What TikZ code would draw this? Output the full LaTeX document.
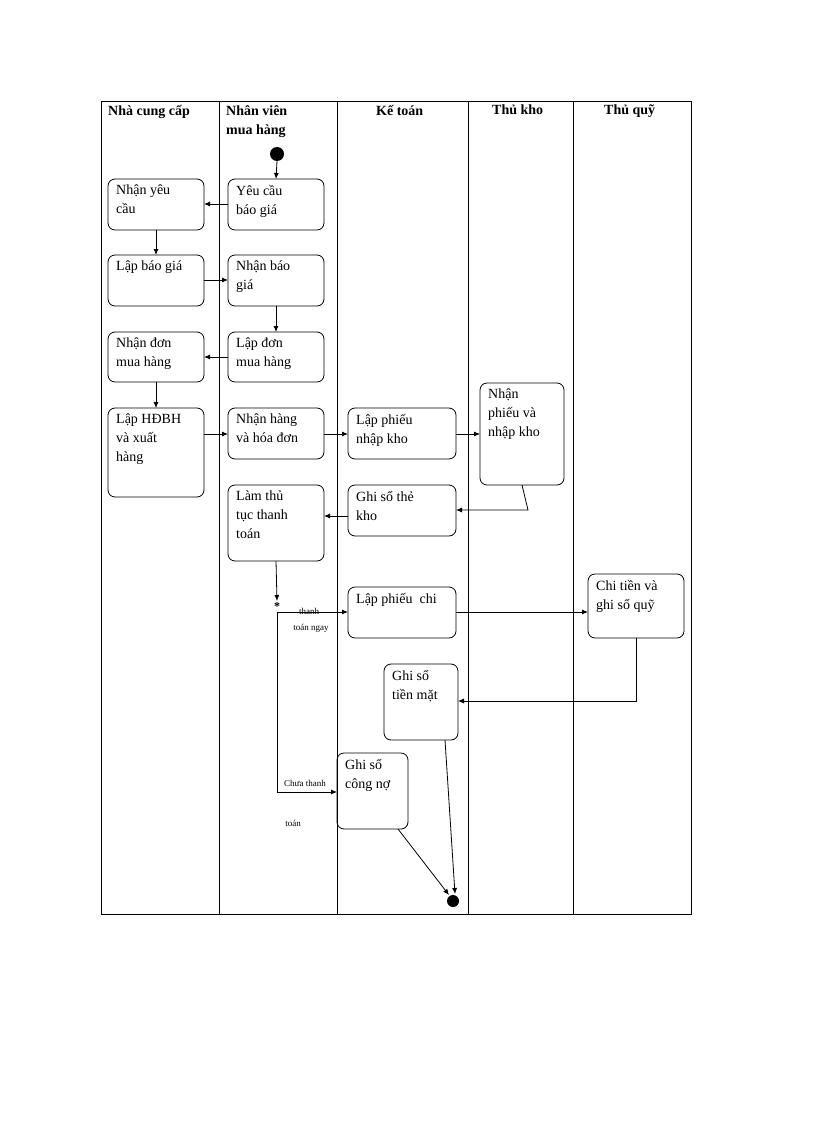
\documentclass[tikz,border=0pt]{standalone}
\usepackage{fontspec}
\setmainfont{Liberation Serif}
\usetikzlibrary{arrows.meta}
\begin{document}
\begin{tikzpicture}[x=1pt,y=-1pt,
  box/.style={draw,rounded corners=7pt,line width=0.8pt},
  txt/.style={anchor=north west,align=left,font=\fontsize{14}{19}\selectfont,inner sep=0pt},
  hd/.style={anchor=north west,align=left,font=\fontsize{14}{19}\selectfont\bfseries,inner sep=0pt},
  lbl/.style={font=\fontsize{9}{12}\selectfont,inner sep=0pt},
  ar/.style={-{Latex[length=6pt,width=5pt]},line width=0.8pt}]
\useasboundingbox (0,0) rectangle (816,1123);
\draw[line width=0.8pt] (101,101) rectangle (691,914);
\foreach \x in {219,337,468,573} \draw[line width=0.8pt] (\x,101) -- (\x,914);
\node[hd] (h1) at (108,105) {Nhà cung cấp};
\node[hd] (h2) at (226,105) {Nhân viên\\mua hàng};
\node[hd] (h3) at (376,105) {Kế toán};
\node[hd] (h4) at (492,105) {Thủ kho};
\node[hd] (h5) at (604,105) {Thủ quỹ};
% boxes
\newcommand\bx[6]{\draw[box] (#2,#3) rectangle (#4,#5); \node[txt] (#1) at (#2+8,#3+6) {#6};
  \coordinate (#1-n) at ({(#2+#4)/2},#3); \coordinate (#1-s) at ({(#2+#4)/2},#5);}
\bx{nyc}{108}{179}{204}{230}{Nhận yêu\\cầu}
\bx{ycbg}{228}{179}{324}{230}{Yêu cầu\\báo giá}
\bx{lbg}{108}{255}{204}{306}{Lập báo giá}
\bx{nbg}{228}{255}{324}{306}{Nhận báo\\giá}
\bx{ndm}{108}{332}{204}{382}{Nhận đơn\\mua hàng}
\bx{ldm}{228}{332}{324}{382}{Lập đơn\\mua hàng}
\bx{lhd}{108}{408}{204}{497}{Lập HĐBH\\và xuất\\hàng}
\bx{nhh}{228}{408}{324}{459}{Nhận hàng\\và hóa đơn}
\bx{lpn}{348}{408}{456}{459}{Lập phiếu\\nhập kho}
\bx{npn}{480}{383}{564}{485}{Nhận\\phiếu và\\nhập kho}
\bx{gtk}{348}{485}{456}{536}{Ghi sổ thẻ\\kho}
\bx{ltt}{228}{485}{324}{561}{Làm thủ\\tục thanh\\toán}
\bx{lpc}{348}{587}{456}{638}{Lập phiếu\ \ chi}
\bx{ctq}{588}{574}{684}{638}{Chi tiền và\\ghi sổ quỹ}
\bx{gtm}{384}{664}{458}{740}{Ghi sổ\\tiền mặt}
\bx{gcn}{337}{753}{408}{829}{Ghi sổ\\công nợ}
\fill (277,154) circle (7) coordinate (start);
\fill (453,901) circle (6) coordinate (end);
\node[font=\fontsize{12}{12}\selectfont\bfseries,inner sep=0pt] (dec) at (277,607) {*};
\coordinate (c1) at (528,510); \coordinate (c2) at (277,792);
\coordinate (c3) at (636,701);
\draw[ar] (277,161) -- (ycbg-n);
\draw[ar] (228,204) -- (204,204);
\draw[ar] (nyc-s) -- (lbg-n);
\draw[ar] (204,280) -- (228,280);
\draw[ar] (nbg-s) -- (ldm-n);
\draw[ar] (228,357) -- (204,357);
\draw[ar] (ndm-s) -- (lhd-n);
\draw[ar] (204,434) -- (228,434);
\draw[ar] (324,434) -- (348,434);
\draw[ar] (456,434) -- (480,434);
\draw[ar] (npn-s) -- (c1) -- (456,510);
\draw[ar] (348,516) -- (324,516);
\draw[ar] (ltt-s) -- (277,601);
\draw[ar] (277,612) -- (348,612);
\node[lbl] (l0) at (309,611) {thanh};
\node[lbl] (l1) at (311,628) {toán ngay};
\draw[ar] (277,612) -- (c2) -- (337,792);
\node[lbl] (l3) at (305,783) {Chưa thanh};
\node[lbl] (l2) at (293,823) {toán};
\draw[ar] (456,612) -- (588,612);
\draw[ar] (ctq-s) -- (c3) -- (458,701);
\draw[ar] (445,740) -- (455,894);
\draw[ar] (398,829) -- (449,895);
\end{tikzpicture}
\end{document}
